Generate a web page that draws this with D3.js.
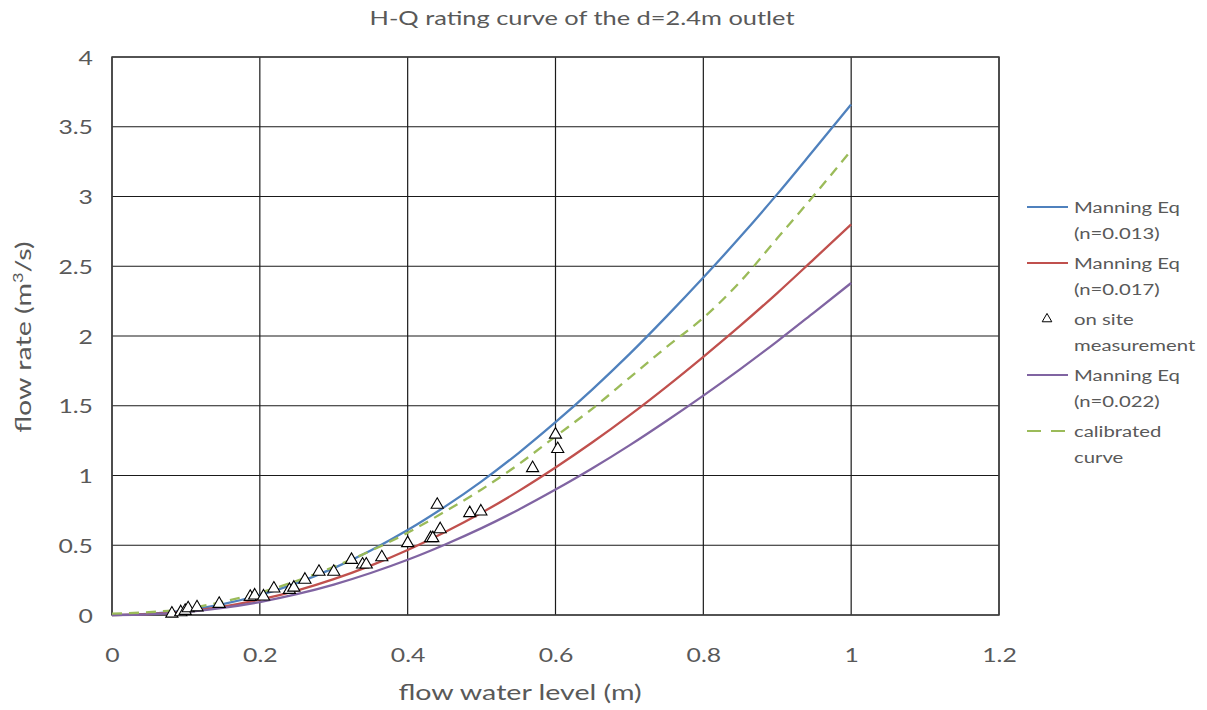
<!DOCTYPE html>
<html>
<head>
<meta charset="utf-8">
<script src="https://cdn.jsdelivr.net/npm/d3@7/dist/d3.min.js"></script>
<style>
  html, body { margin: 0; padding: 0; background: #ffffff; }
  svg text { font-family: Lato, "Open Sans", sans-serif; fill: #595959; }
</style>
</head>
<body>
<svg id="chart" width="1207" height="710"></svg>
<script>
// Water level (m) at which each rating curve is sampled
const levels = [0, 0.05, 0.1, 0.15, 0.2, 0.25, 0.3, 0.35, 0.4, 0.45, 0.5,
                0.55, 0.6, 0.65, 0.7, 0.75, 0.8, 0.85, 0.9, 0.95, 1.0];

// Discharge (m3/s) for each curve
const manning013 = [0, 0.008, 0.033, 0.078, 0.143, 0.229, 0.336, 0.463, 0.609, 0.775, 0.958,
                    1.161, 1.382, 1.618, 1.870, 2.139, 2.419, 2.711, 3.017, 3.337, 3.66];
const manning017 = [0, 0.006, 0.025, 0.060, 0.110, 0.175, 0.257, 0.354, 0.466, 0.593, 0.733,
                    0.888, 1.057, 1.238, 1.431, 1.636, 1.851, 2.074, 2.308, 2.553, 2.80];
const manning022 = [0, 0.005, 0.021, 0.051, 0.093, 0.149, 0.218, 0.301, 0.396, 0.504, 0.623,
                    0.755, 0.899, 1.052, 1.216, 1.391, 1.573, 1.763, 1.962, 2.170, 2.38];
const calibrated = [0.01, 0.02, 0.045, 0.095, 0.16, 0.245, 0.345, 0.46, 0.59, 0.74, 0.90,
                    1.08, 1.28, 1.48, 1.70, 1.92, 2.13, 2.39, 2.70, 3.01, 3.33];

// On-site measurements
const measuredLevel = [0.081, 0.093, 0.099, 0.103, 0.115, 0.145, 0.187, 0.193, 0.205, 0.219,
                       0.240, 0.246, 0.261, 0.280, 0.300, 0.324, 0.339, 0.344, 0.365, 0.400,
                       0.431, 0.434, 0.444, 0.440, 0.484, 0.499, 0.569, 0.600, 0.603];
const measuredFlow  = [0.010, 0.020, 0.030, 0.048, 0.055, 0.080, 0.130, 0.140, 0.133, 0.190,
                       0.180, 0.196, 0.253, 0.310, 0.310, 0.395, 0.362, 0.362, 0.414, 0.515,
                       0.551, 0.551, 0.615, 0.790, 0.730, 0.742, 1.053, 1.293, 1.190];

// Axis ticks
const xTicks = [0, 0.2, 0.4, 0.6, 0.8, 1.0, 1.2];
const yTicks = [0, 0.5, 1, 1.5, 2, 2.5, 3, 3.5, 4];

const title = "H-Q rating curve of the d=2.4m outlet";

const series = [
  { name: ["Manning Eq", "(n=0.013)"], values: manning013, color: "#4F81BD", dash: null },
  { name: ["Manning Eq", "(n=0.017)"], values: manning017, color: "#C0504D", dash: null },
  { name: ["Manning Eq", "(n=0.022)"], values: manning022, color: "#8064A2", dash: null },
  { name: ["calibrated", "curve"],     values: calibrated, color: "#9BBB59", dash: "10,7" }
];

const svg = d3.select("#chart");
const plot = { left: 112, right: 999, top: 57, bottom: 615 };

// wide-set lettering: glyphs are drawn stretched along the reading direction
const WIDE = 1.24;

const x = d3.scaleLinear().domain([0, 1.2]).range([plot.left, plot.right]);
const y = d3.scaleLinear().domain([0, 4]).range([plot.bottom, plot.top]);

// Gridlines
const grid = svg.append("g");
grid.selectAll("line.gx").data(xTicks).join("line")
  .attr("x1", d => x(d)).attr("x2", d => x(d))
  .attr("y1", plot.top).attr("y2", plot.bottom)
  .attr("stroke", "#1a1a1a").attr("stroke-width", 1.2);
grid.selectAll("line.gy").data(yTicks).join("line")
  .attr("x1", plot.left).attr("x2", plot.right)
  .attr("y1", d => y(d)).attr("y2", d => y(d))
  .attr("stroke", "#1a1a1a").attr("stroke-width", 1.2);

// Plot frame
svg.append("rect")
  .attr("x", plot.left).attr("y", plot.top)
  .attr("width", plot.right - plot.left).attr("height", plot.bottom - plot.top)
  .attr("fill", "none").attr("stroke", "#404040").attr("stroke-width", 1.5);

// Axes (labels only, gridlines already drawn)
const fmt = d3.format("~g");
const xAxis = d3.axisBottom(x).tickValues(xTicks).tickSize(0).tickPadding(0).tickFormat(fmt);
svg.append("g").attr("transform", `translate(0,${plot.bottom})`).call(xAxis)
  .call(g => g.select(".domain").remove())
  .selectAll("text")
  .attr("x", 0).attr("y", 0).attr("dy", 0)
  .attr("transform", `translate(0,47) scale(${WIDE},1)`)
  .style("font-size", "20px").style("font-family", "Lato, sans-serif").attr("fill", "#595959");

const yAxis = d3.axisLeft(y).tickValues(yTicks).tickSize(0).tickPadding(0).tickFormat(fmt);
svg.append("g").attr("transform", `translate(${plot.left},0)`).call(yAxis)
  .call(g => g.select(".domain").remove())
  .selectAll("text")
  .attr("x", 0).attr("dy", "0.36em")
  .attr("transform", `translate(-19,0) scale(${WIDE},1)`)
  .style("font-size", "20px").style("font-family", "Lato, sans-serif").attr("fill", "#595959");

// Curves
const line = d3.line()
  .x((d, i) => x(levels[i]))
  .y(d => y(d))
  .curve(d3.curveMonotoneX);

series.forEach(s => {
  svg.append("path")
    .datum(s.values)
    .attr("d", line)
    .attr("fill", "none")
    .attr("stroke", s.color)
    .attr("stroke-width", 2.3)
    .attr("stroke-dasharray", s.dash);
});

// Measurement markers
const tri = d3.symbol().type(d3.symbolTriangle).size(64);
svg.append("g").selectAll("path")
  .data(measuredLevel.map((h, i) => [h, measuredFlow[i]]))
  .join("path")
  .attr("d", tri)
  .attr("transform", d => `translate(${x(d[0])},${y(d[1])})`)
  .attr("fill", "#ffffff")
  .attr("stroke", "#000000")
  .attr("stroke-width", 1.1);

// Title
svg.append("text")
  .attr("transform", `translate(582,25) scale(1.27,1)`)
  .attr("text-anchor", "middle")
  .style("font-size", "20px")
  .text(title);

// Axis titles
svg.append("text")
  .attr("transform", `translate(520,700) scale(1.3,1)`)
  .attr("text-anchor", "middle")
  .style("font-size", "22px")
  .text("flow water level (m)");

const yTitle = svg.append("text")
  .attr("transform", "translate(31,337) rotate(-90) scale(1.3,1)")
  .attr("text-anchor", "middle")
  .style("font-size", "22px");
yTitle.append("tspan").text("flow rate (m");
yTitle.append("tspan").attr("dy", -8).style("font-size", "14px").text("3");
yTitle.append("tspan").attr("dy", 8).text("/s)");

// Legend
const legendEntries = [
  { kind: "line", s: series[0] },
  { kind: "line", s: series[1] },
  { kind: "marker", name: ["on site", "measurement"] },
  { kind: "line", s: series[2] },
  { kind: "line", s: series[3] }
];
const lg = svg.append("g");
const lineH = 26.5;
let ly = 207;
legendEntries.forEach(e => {
  const names = e.kind === "line" ? e.s.name : e.name;
  if (e.kind === "line") {
    lg.append("line")
      .attr("x1", 1027).attr("x2", 1068)
      .attr("y1", ly).attr("y2", ly)
      .attr("stroke", e.s.color).attr("stroke-width", 2.2)
      .attr("stroke-dasharray", e.s.dash ? "14,10" : null);
  } else {
    lg.append("path")
      .attr("d", d3.symbol().type(d3.symbolTriangle).size(40))
      .attr("transform", `translate(1047,${ly})`)
      .attr("fill", "#ffffff").attr("stroke", "#000000").attr("stroke-width", 1);
  }
  names.forEach((t, k) => {
    lg.append("text")
      .attr("transform", `translate(1074,${ly + k * lineH}) scale(1.27,1)`)
      .attr("dy", "0.36em")
      .style("font-size", "16px")
      .text(t);
  });
  ly += names.length * lineH + 3;
});
</script>
</body>
</html>
